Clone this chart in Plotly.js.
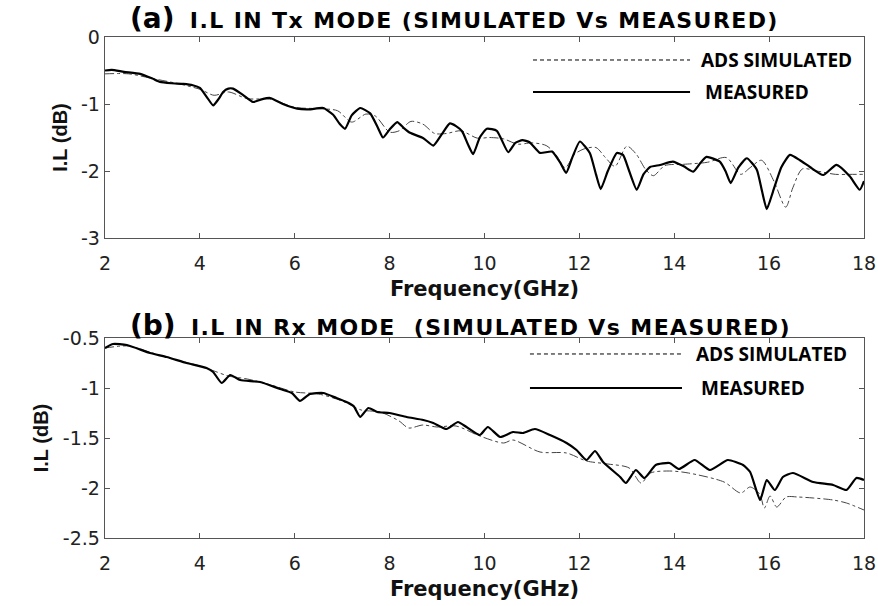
<!DOCTYPE html>
<html>
<head>
<meta charset="utf-8">
<script src="https://cdn.plot.ly/plotly-3.0.1.min.js"></script>
<style>html,body{margin:0;padding:0;background:#fff}#chart{width:878px;height:606px}</style>
</head>
<body>
<div id="chart"></div>
<script>
// (a) Tx mode
const txMeasF = [2.0,2.14,2.4,2.74,3.0,3.16,3.4,3.65,3.85,4.0,4.15,4.28,4.4,4.49,4.6,4.7,4.9,5.12,5.3,5.48,5.75,6.05,6.3,6.6,6.81,6.95,7.06,7.2,7.38,7.59,7.75,7.86,8.0,8.16,8.3,8.43,8.71,8.92,9.1,9.27,9.4,9.53,9.65,9.76,9.9,10.05,10.26,10.5,10.65,10.8,10.95,11.17,11.42,11.6,11.72,11.85,12.01,12.22,12.35,12.45,12.6,12.79,12.92,13.05,13.21,13.35,13.49,13.7,13.97,14.2,14.4,14.55,14.68,14.96,15.08,15.19,15.35,15.53,15.74,15.85,15.95,16.08,16.26,16.44,16.65,16.86,17.14,17.42,17.7,17.91,18.0];
const txMeasV = [-0.50,-0.49,-0.52,-0.55,-0.62,-0.67,-0.69,-0.70,-0.72,-0.76,-0.90,-1.02,-0.92,-0.82,-0.77,-0.77,-0.86,-0.97,-0.93,-0.91,-1.00,-1.07,-1.08,-1.06,-1.16,-1.30,-1.37,-1.17,-1.06,-1.14,-1.35,-1.50,-1.38,-1.27,-1.36,-1.43,-1.51,-1.62,-1.45,-1.29,-1.33,-1.41,-1.60,-1.75,-1.50,-1.37,-1.40,-1.72,-1.58,-1.54,-1.57,-1.73,-1.71,-1.88,-2.03,-1.80,-1.56,-1.73,-2.05,-2.27,-2.00,-1.73,-1.76,-2.00,-2.28,-2.05,-1.94,-1.91,-1.86,-1.93,-2.01,-1.88,-1.79,-1.86,-2.00,-2.18,-1.95,-1.81,-1.98,-2.30,-2.57,-2.31,-1.94,-1.76,-1.84,-1.94,-2.06,-1.91,-2.08,-2.28,-2.15];
const txSimF = [2.0,2.5,3.0,3.5,4.0,4.3,4.6,5.0,5.5,6.0,6.5,6.9,7.2,7.5,7.7,8.0,8.2,8.45,8.7,8.95,9.2,9.5,9.85,10.1,10.4,10.7,11.0,11.3,11.5,11.7,11.9,12.1,12.35,12.55,12.75,13.0,13.2,13.4,13.56,13.8,14.2,14.7,15.1,15.4,15.6,15.84,16.1,16.35,16.5,16.7,17.0,17.4,17.7,18.0];
const txSimV = [-0.55,-0.55,-0.62,-0.69,-0.78,-0.87,-0.82,-0.92,-0.93,-1.05,-1.07,-1.10,-1.27,-1.15,-1.18,-1.42,-1.40,-1.26,-1.30,-1.44,-1.44,-1.40,-1.51,-1.50,-1.52,-1.60,-1.58,-1.62,-1.75,-1.95,-1.75,-1.67,-1.65,-1.80,-1.93,-1.63,-1.75,-1.98,-2.07,-1.92,-1.90,-1.87,-1.80,-2.05,-1.95,-1.84,-2.15,-2.54,-2.25,-1.97,-2.00,-2.05,-2.05,-2.05];

// (b) Rx mode
const rxMeasF = [2.0,2.17,2.46,2.95,3.3,3.72,4.14,4.28,4.46,4.64,4.85,5.27,5.69,5.94,6.11,6.32,6.6,6.88,7.09,7.24,7.38,7.55,7.74,8.0,8.36,8.71,8.92,9.2,9.44,9.62,9.9,10.07,10.33,10.6,10.81,11.06,11.38,11.73,11.94,12.15,12.33,12.5,12.86,12.98,13.19,13.37,13.61,13.9,14.1,14.43,14.75,15.13,15.45,15.6,15.81,15.95,16.12,16.29,16.5,16.93,17.35,17.63,17.84,18.0];
const rxMeasV = [-0.60,-0.56,-0.57,-0.65,-0.69,-0.75,-0.80,-0.84,-0.95,-0.87,-0.92,-0.94,-1.01,-1.05,-1.13,-1.06,-1.05,-1.10,-1.14,-1.18,-1.29,-1.20,-1.24,-1.25,-1.29,-1.32,-1.35,-1.41,-1.34,-1.39,-1.47,-1.39,-1.49,-1.44,-1.45,-1.41,-1.47,-1.55,-1.62,-1.72,-1.63,-1.74,-1.89,-1.95,-1.82,-1.90,-1.77,-1.75,-1.81,-1.72,-1.82,-1.72,-1.77,-1.84,-2.12,-1.92,-2.02,-1.89,-1.85,-1.94,-1.97,-2.02,-1.90,-1.92];
const rxSimF = [2.0,2.5,3.0,3.5,4.0,4.3,4.6,5.0,5.5,6.0,6.5,7.0,7.4,7.8,8.2,8.4,8.7,9.0,9.4,9.9,10.4,10.6,11.17,11.73,12.15,12.6,13.05,13.3,13.5,13.9,14.3,15.05,15.4,15.6,15.8,15.9,16.02,16.16,16.36,16.6,16.93,17.35,17.63,18.0];
const rxSimV = [-0.60,-0.58,-0.65,-0.72,-0.78,-0.83,-0.88,-0.91,-0.97,-1.04,-1.06,-1.13,-1.22,-1.24,-1.33,-1.40,-1.37,-1.39,-1.38,-1.48,-1.55,-1.52,-1.64,-1.65,-1.73,-1.76,-1.80,-1.95,-1.85,-1.83,-1.85,-1.94,-2.05,-1.99,-2.06,-2.20,-2.08,-2.19,-2.09,-2.09,-2.10,-2.12,-2.15,-2.22];

const xTicks = [2,4,6,8,10,12,14,16,18];
const txTicks = [0,-1,-2,-3];
const txTickText = ['0','-1','-2','-3'];
const rxTicks = [-0.5,-1,-1.5,-2,-2.5];
const rxTickText = ['-0.5','-1','-1.5','-2','-2.5'];

const simStyle = {color:'#444', width:1, dash:'dashdot', shape:'spline', smoothing:0.8};
const measStyle = {color:'#000', width:2.2, shape:'spline', smoothing:0.5};

const traces = [
  {x:txSimF, y:txSimV, xaxis:'x', yaxis:'y', mode:'lines', line:simStyle, name:'ADS SIMULATED'},
  {x:txMeasF, y:txMeasV, xaxis:'x', yaxis:'y', mode:'lines', line:measStyle, name:'MEASURED'},
  {x:rxSimF, y:rxSimV, xaxis:'x2', yaxis:'y2', mode:'lines', line:simStyle, name:'ADS SIMULATED'},
  {x:rxMeasF, y:rxMeasV, xaxis:'x2', yaxis:'y2', mode:'lines', line:measStyle, name:'MEASURED'}
];

const tickFont = {family:'DejaVu Sans, sans-serif', size:19, color:'#222'};
const xTitleFont = {family:'DejaVu Sans, sans-serif', size:21, color:'#111', weight:'bold'};
const yTitleFont = {family:'Liberation Sans, Arial, sans-serif', size:20, color:'#111', weight:'bold'};
const axBase = {showgrid:false, zeroline:false, showline:true, linecolor:'#555', linewidth:1.3,
  mirror:'ticks', ticks:'inside', ticklen:5, tickcolor:'#555', tickfont:tickFont};

const legFont = {family:'Open Sans, sans-serif', size:19, color:'#000', weight:'bold'};
const headFont = {family:'DejaVu Sans, sans-serif', size:22, color:'#000', weight:'bold'};

const layout = {
  width:878, height:606,
  margin:{l:105, r:14, t:37, b:68},
  paper_bgcolor:'#fff', plot_bgcolor:'#fff',
  showlegend:false,
  xaxis: Object.assign({}, axBase, {domain:[0,1], range:[2,18], tickvals:xTicks, anchor:'y', ticklabelstandoff:8,
    title:{text:'<b>Frequency(GHz)</b>', font:xTitleFont, standoff:8}}),
  yaxis: Object.assign({}, axBase, {domain:[0.5988,1], range:[-3,0], tickvals:txTicks, ticktext:txTickText, anchor:'x',
    title:{text:'<b>I.L (dB)</b>', font:yTitleFont, standoff:8}}),
  xaxis2: Object.assign({}, axBase, {domain:[0,1], range:[2,18], tickvals:xTicks, anchor:'y2', ticklabelstandoff:8,
    title:{text:'<b>Frequency(GHz)</b>', font:xTitleFont, standoff:8}}),
  yaxis2: Object.assign({}, axBase, {domain:[0,0.3992], range:[-2.5,-0.5], tickvals:rxTicks, ticktext:rxTickText, anchor:'x2',
    title:{text:'<b>I.L (dB)</b>', font:yTitleFont, standoff:8}}),
  shapes:[
    {type:'line', xref:'paper', yref:'paper', x0:0.5639, x1:0.7708, y0:0.9541, y1:0.9541, line:{color:'#000', width:1, dash:'4px,3px'}},
    {type:'line', xref:'paper', yref:'paper', x0:0.5639, x1:0.7708, y0:0.8902, y1:0.8902, line:{color:'#000', width:1.8}},
    {type:'line', xref:'paper', yref:'paper', x0:0.5599, x1:0.7602, y0:0.3673, y1:0.3673, line:{color:'#000', width:1, dash:'4px,3px'}},
    {type:'line', xref:'paper', yref:'paper', x0:0.5599, x1:0.7602, y0:0.2994, y1:0.2994, line:{color:'#000', width:1.8}}
  ],
  annotations:[
    {xref:'paper', yref:'paper', x:0.0303, y:1.036, xanchor:'left', yanchor:'middle', showarrow:false,
      text:'<span style="font-size:28px">(a)</span>  <span style="letter-spacing:1.4px">I.L IN Tx MODE (SIMULATED Vs MEASURED)</span>',
      font:headFont},
    {xref:'paper', yref:'paper', x:0.0303, y:0.425, xanchor:'left', yanchor:'middle', showarrow:false,
      text:'<span style="font-size:28px">(b)</span>  <span style="letter-spacing:1.4px">I.L IN Rx MODE  (SIMULATED Vs MEASURED)</span>',
      font:headFont},
    {xref:'paper', yref:'paper', x:0.7826, y:0.9541, xanchor:'left', yanchor:'middle', showarrow:false, text:'ADS SIMULATED', font:legFont},
    {xref:'paper', yref:'paper', x:0.7879, y:0.8902, xanchor:'left', yanchor:'middle', showarrow:false, text:'MEASURED', font:legFont},
    {xref:'paper', yref:'paper', x:0.7760, y:0.3673, xanchor:'left', yanchor:'middle', showarrow:false, text:'ADS SIMULATED', font:legFont},
    {xref:'paper', yref:'paper', x:0.7826, y:0.2994, xanchor:'left', yanchor:'middle', showarrow:false, text:'MEASURED', font:legFont}
  ]
};

Plotly.newPlot('chart', traces, layout, {displayModeBar:false, staticPlot:true});
</script>
</body>
</html>
